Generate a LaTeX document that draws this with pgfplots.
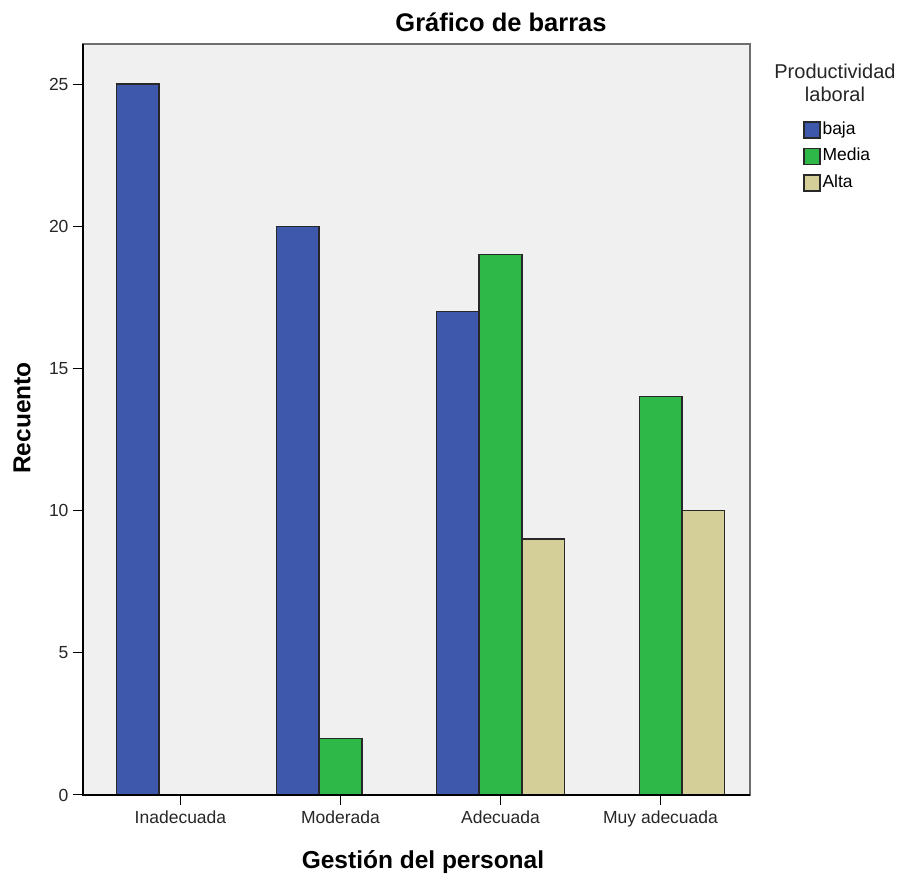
\documentclass[border=0pt]{standalone}
\usepackage{pgfplots}
\pgfplotsset{compat=1.18}
\usepackage{fontspec}
\setmainfont{Liberation Sans}
\definecolor{cbaja}{RGB}{62,88,172}
\definecolor{cmedia}{RGB}{46,184,72}
\definecolor{calta}{RGB}{212,207,152}
\definecolor{cbg}{RGB}{240,240,240}
\definecolor{cframe}{RGB}{110,110,110}
\definecolor{cedge}{RGB}{40,40,40}
\begin{document}
\begin{tikzpicture}
\useasboundingbox (0,0) rectangle (902pt,877pt);
\begin{axis}[
  at={(83pt,82pt)}, anchor=south west,
  scale only axis, width=667pt, height=751pt,
  xmin=-0.609, xmax=3.559, ymin=0, ymax=26.41,
  axis background/.style={fill=cbg},
  axis line style={draw=cframe, line width=1.5pt},
  ybar, bar width=0.268,
  xtick={0,1,2,3},
  xticklabels={Inadecuada,Moderada,Adecuada,Muy adecuada},
  ytick={0,5,10,15,20,25},
  tick align=outside, major tick length=10pt,
  xtick style={draw=black, line width=1pt},
  ytick style={draw=black, line width=1pt},
  xtick pos=bottom, ytick pos=left,
  tick label style={font=\fontsize{17.5}{20}\selectfont, text=black!85},
  /pgf/number format/assume math mode=true,
  xticklabel style={yshift=-2pt},
  yticklabel style={xshift=-1pt},
  legend style={draw=none, fill=none, at={(1.0795,0.899)}, anchor=north west,
    font=\fontsize{17.5}{20}\selectfont, inner sep=0pt, row sep=6.5pt,
    nodes={text height=12pt, text depth=4pt, inner sep=2pt},
    cells={anchor=west}},
  legend image code/.code={\draw[#1, line width=1.3pt] (0pt,-8pt) rectangle (16pt,8pt);},
  clip=false,
]
\addplot[bar shift=0pt, fill=cbaja, draw=cedge, line width=1.2pt] coordinates {(-0.268,25) (0.732,20) (1.732,17)};
\addlegendentry{baja}
\addplot[bar shift=0pt, fill=cmedia, draw=cedge, line width=1.2pt] coordinates {(1,2) (2,19) (3,14)};
\addlegendentry{Media}
\addplot[bar shift=0pt, fill=calta, draw=cedge, line width=1.2pt] coordinates {(2.268,9) (3.268,10)};
\addlegendentry{Alta}
\draw[black, line width=1.5pt] (rel axis cs:0,1) -- (rel axis cs:0,0) -- (rel axis cs:1,0);
\node[anchor=base, font=\bfseries\fontsize{25.5}{30}\selectfont] at (axis description cs:0.6267,1.016) {Gráfico de barras};
\node[align=center, font=\fontsize{20}{23}\selectfont, text=black!85] at (axis description cs:1.1274,0.948) {Productividad\\laboral};
\node[anchor=base, font=\bfseries\fontsize{24.5}{28}\selectfont] at (axis description cs:0.5097,-0.0975) {Gestión del personal};
\node[rotate=90, font=\bfseries\fontsize{24.5}{28}\selectfont] at (axis description cs:-0.0915,0.5020) {Recuento};
\end{axis}
\end{tikzpicture}
\end{document}
